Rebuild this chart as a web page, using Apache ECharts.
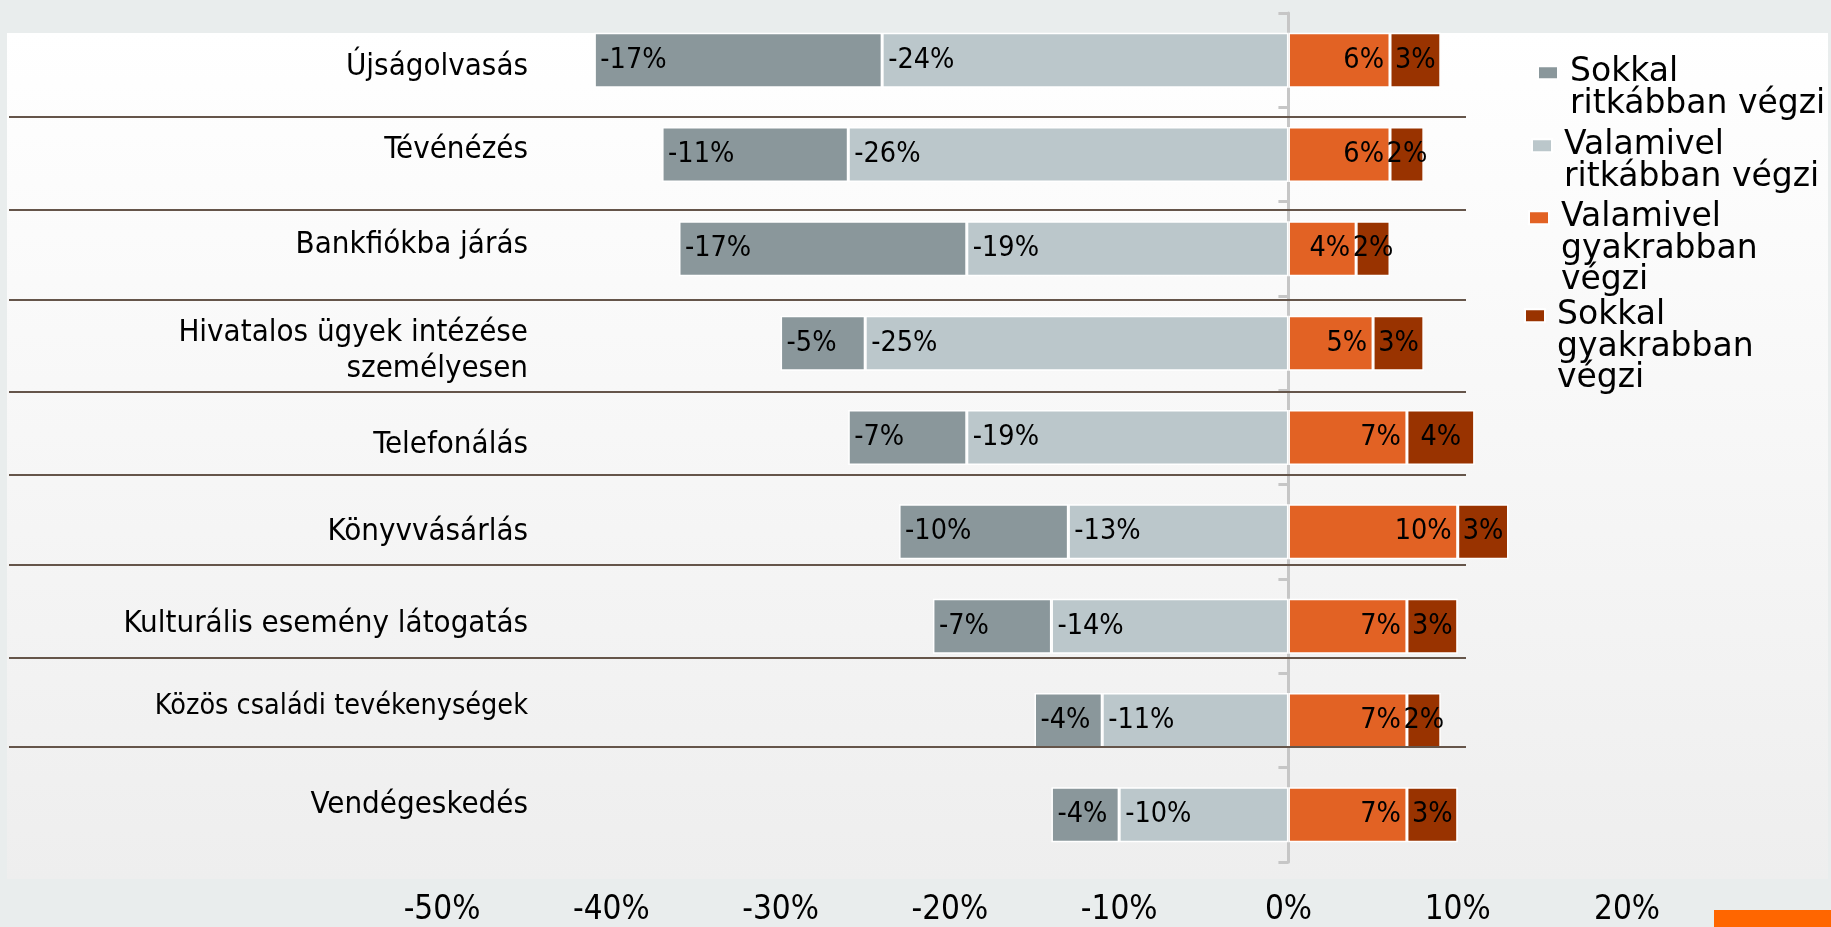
<!DOCTYPE html>
<html lang="hu">
<head>
<meta charset="utf-8">
<title>Tevékenységek gyakoriságának változása</title>
<script src="https://cdn.jsdelivr.net/npm/echarts@6/dist/echarts.min.js"></script>
<style>
  html, body { margin: 0; padding: 0; background: #e9eded; }
  #chart { width: 1831px; height: 927px; }
</style>
</head>
<body>
<div id="chart"></div>
<script>
// Activities (top to bottom)
const categories = [
  'Újságolvasás',
  'Tévénézés',
  'Bankfiókba járás',
  'Hivatalos ügyek intézése\nszemélyesen',
  'Telefonálás',
  'Könyvvásárlás',
  'Kulturális esemény látogatás',
  'Közös családi tevékenységek',
  'Vendégeskedés'
];

// Share of respondents (%), by change in frequency
const muchLess     = [-17, -11, -17, -5, -7, -10, -7, -4, -4];
const slightlyLess = [-24, -26, -19, -25, -19, -13, -14, -11, -10];
const slightlyMore = [6, 6, 4, 5, 7, 10, 7, 7, 7];
const muchMore     = [3, 2, 2, 3, 4, 3, 3, 2, 3];

const seriesNames = [
  'Sokkal ritkábban végzi',
  'Valamivel ritkábban végzi',
  'Valamivel gyakrabban végzi',
  'Sokkal gyakrabban végzi'
];
const legendText = [
  'Sokkal\nritkábban végzi',
  'Valamivel\nritkábban végzi',
  'Valamivel\ngyakrabban\nvégzi',
  'Sokkal\ngyakrabban\nvégzi'
];

// value axis range
const xMin = -50, xMax = 20, xStep = 10;

// ---- styling / layout ----
const colors = ['#8a979b', '#bbc7cb', '#e26224', '#993300'];
const condensed = '"DejaVu Sans Condensed", "DejaVu Sans", sans-serif';
const wide = '"DejaVu Sans", Verdana, sans-serif';
const labelNudge = [7, -5, -4, 8, 7, 0, -2, -14, -10];   // vertical nudge of category labels (px, + = down)
const labelSize  = [31, 31, 31, 31, 31, 31, 31, 28.5, 31];
const ruleY = [117, 210, 300, 392, 475, 565, 658, 747];   // table rules between rows
const legendPos = [
  { left: 1537, line: 72 },
  { left: 1531, line: 145 },
  { left: 1528, line: 217 },
  { left: 1524, line: 315 }
];
const legendLineHeight = 31.5;

const chart = echarts.init(document.getElementById('chart'), null, { renderer: 'canvas' });

// one rich style per category label, carrying its size and vertical nudge
const catRich = {};
categories.forEach((c, i) => {
  const n = labelNudge[i];
  catRich['c' + i] = {
    fontFamily: condensed,
    fontSize: labelSize[i],
    lineHeight: 36,
    color: '#000',
    padding: n >= 0 ? [2 * n, 0, 0, 0] : [0, 0, -2 * n, 0]
  };
});

function barSeries(name, data, color, labelPos) {
  return {
    name: name,
    type: 'bar',
    stack: 'total',
    yAxisIndex: 0,
    barWidth: 55,
    data: data,
    itemStyle: { color: color, borderColor: '#ffffff', borderWidth: 1.5 },
    label: {
      show: true,
      position: labelPos,
      distance: 6,
      formatter: '{c}%',
      color: '#000',
      fontFamily: condensed,
      fontSize: 28.5
    }
  };
}

const legends = seriesNames.map((name, i) => {
  const lines = legendText[i].split('\n');
  const n = lines.length;
  return {
    data: [name],
    orient: 'vertical',
    left: legendPos[i].left,
    top: legendPos[i].line - (2 * n - 1) * legendLineHeight / 2,
    padding: 0,
    itemWidth: 20,
    itemHeight: 13,
    icon: 'rect',
    selectedMode: false,
    formatter: () => lines.map(s => '{t|' + s + '}').join('\n'),
    textStyle: {
      fontFamily: wide,
      fontSize: 33,
      lineHeight: legendLineHeight,
      color: '#000',
      rich: {
        t: {
          fontFamily: wide,
          fontSize: 33,
          lineHeight: legendLineHeight,
          color: '#000',
          // push the block down so the first line sits beside the marker
          padding: [(n - 1) * legendLineHeight, 0, 0, 7]
        }
      }
    }
  };
});

const graphics = [
  { type: 'rect', z: -20, silent: true,
    shape: { x: 0, y: 0, width: 1831, height: 927 }, style: { fill: '#e9eded' } },
  { type: 'rect', z: -19, silent: true,
    shape: { x: 7, y: 33, width: 1821, height: 846 },
    style: { fill: new echarts.graphic.LinearGradient(0, 0, 0, 1, [
      { offset: 0, color: '#ffffff' }, { offset: 1, color: '#eeeeee' }]) } },
  { type: 'rect', z: 10, silent: true,
    shape: { x: 1714, y: 910, width: 117, height: 17 }, style: { fill: '#ff6600' } }
].concat(ruleY.map(y => ({
  type: 'line', z: 10, silent: true,
  shape: { x1: 9, y1: y, x2: 1466, y2: y },
  style: { stroke: '#65554a', lineWidth: 2 }
})));

chart.setOption({
  animation: false,
  backgroundColor: '#e9eded',
  color: colors,
  graphic: graphics,
  legend: legends,
  grid: { left: 442, right: 204, top: 13, bottom: 62, containLabel: false },
  xAxis: {
    type: 'value',
    min: xMin,
    max: xMax,
    interval: xStep,
    axisLine: { show: false },
    axisTick: { show: false },
    splitLine: { show: false },
    axisLabel: {
      formatter: '{value}%',
      margin: 32,
      color: '#000',
      fontFamily: condensed,
      fontSize: 33
    }
  },
  yAxis: [
    {
      // zero line with row ticks
      type: 'category',
      data: categories,
      inverse: true,
      position: 'left',
      axisLine: { show: true, onZero: true, lineStyle: { color: '#c6c6c6', width: 3 } },
      axisTick: { show: true, length: 10, lineStyle: { color: '#c6c6c6', width: 3 } },
      axisLabel: { show: false },
      splitLine: { show: false }
    },
    {
      // activity names
      type: 'category',
      data: categories,
      inverse: true,
      position: 'left',
      axisLine: { show: false, onZero: false },
      axisTick: { show: false },
      splitLine: { show: false },
      axisLabel: {
        margin: -86,
        color: '#000',
        fontFamily: condensed,
        fontSize: 31,
        lineHeight: 36,
        align: 'right',
        formatter: (value, index) =>
          value.split('\n').map(s => '{c' + index + '|' + s + '}').join('\n'),
        rich: catRich
      }
    }
  ],
  series: [
    barSeries(seriesNames[1], slightlyLess, colors[1], 'insideLeft'),
    barSeries(seriesNames[0], muchLess, colors[0], 'insideLeft'),
    barSeries(seriesNames[2], slightlyMore, colors[2], 'insideRight'),
    barSeries(seriesNames[3], muchMore, colors[3], 'inside')
  ]
});
</script>
</body>
</html>
